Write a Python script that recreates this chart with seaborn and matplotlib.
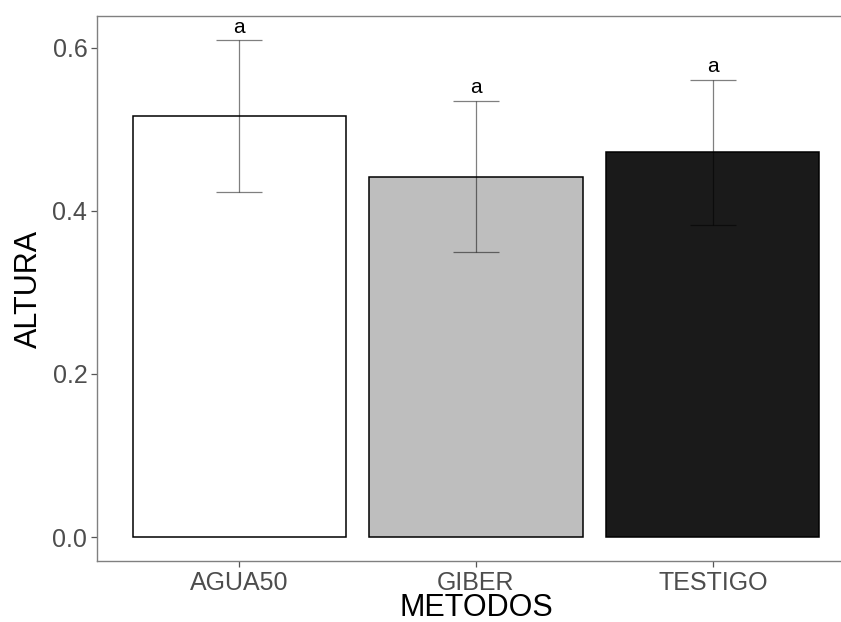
import matplotlib
matplotlib.use("Agg")
import matplotlib.pyplot as plt
import seaborn as sns
import pandas as pd
import numpy as np

metodos = ["AGUA50", "GIBER", "TESTIGO"]
altura = [0.516, 0.442, 0.472]
error = [0.093, 0.093, 0.089]
letras = ["a", "a", "a"]
colores = ["#FFFFFF", "#BEBEBE", "#1A1A1A"]

sns.set_theme(style="white")
plt.rcParams['font.family'] = ['Liberation Sans', 'DejaVu Sans']

df = pd.DataFrame({"METODOS": metodos, "ALTURA": altura})

fig = plt.figure(figsize=(8.41, 6.22), dpi=100)
ax = fig.add_axes([97/841, (622-561)/622, (855-97)/841, (561-16)/622])

sns.barplot(data=df, x="METODOS", y="ALTURA", hue="METODOS", palette=colores,
            errorbar=None, width=0.9, edgecolor="black", linewidth=1.1,
            legend=False, ax=ax, saturation=1)

x = np.arange(len(metodos))
ax.errorbar(x, altura, yerr=error, fmt="none", ecolor="black", alpha=0.5,
            elinewidth=0.9, capsize=16.8, capthick=0.9, zorder=5)

for xi, m, e, l in zip(x, altura, error, letras):
    ax.text(xi, m + e + 0.009, l, ha="center", va="baseline", fontsize=15,
            color="black")

ax.set_xlim(-0.6, 2.6)
ax.set_ylim(-0.0294, 0.639)
ax.set_yticks([0.0, 0.2, 0.4, 0.6])
ax.set_yticklabels(["0.0", "0.2", "0.4", "0.6"])

for s in ax.spines.values():
    s.set_visible(True)
    s.set_color("#808080")
    s.set_linewidth(1.0)
ax.spines["right"].set_visible(False)

ax.tick_params(axis="both", which="both", length=4, width=0.9, color="#555555",
               labelcolor="#4D4D4D", labelsize=18, pad=3,
               bottom=True, left=True)
ax.set_xlabel("METODOS", fontsize=22, color="black", labelpad=-1)
ax.set_ylabel("ALTURA", fontsize=22, color="black", labelpad=6)
ax.grid(False)

fig.savefig("out.png", dpi=100)
